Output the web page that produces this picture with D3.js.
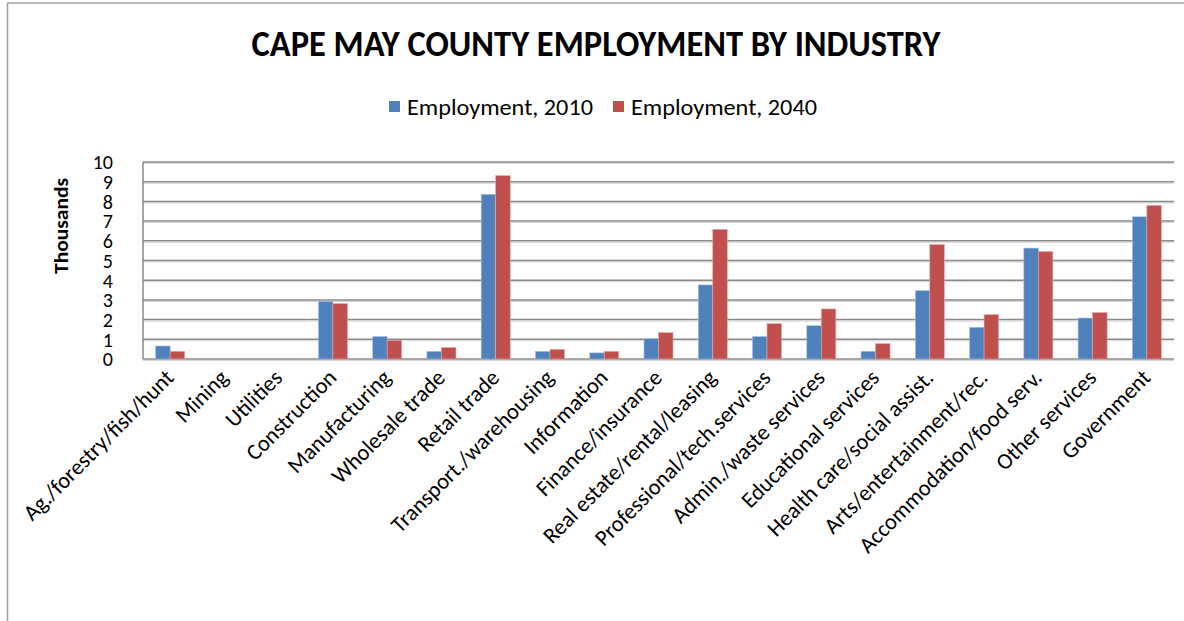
<!DOCTYPE html>
<html>
<head>
<meta charset="utf-8">
<script src="https://cdn.jsdelivr.net/npm/d3@7"></script>
<style>
  html, body { margin: 0; padding: 0; background: #fff; }
  svg { display: block; }
  text { font-family: Calibri, Carlito, Lato, "Open Sans", sans-serif; fill: #000; }
</style>
</head>
<body>
<svg id="chart" width="1184" height="621"></svg>
<script>
// Industry categories (x axis)
const industries = [
  "Ag./forestry/fish/hunt", "Mining", "Utilities", "Construction", "Manufacturing",
  "Wholesale trade", "Retail trade", "Transport./warehousing", "Information",
  "Finance/insurance", "Real estate/rental/leasing", "Professional/tech.services",
  "Admin./waste services", "Educational services", "Health care/social assist.",
  "Arts/entertainment/rec.", "Accommodation/food serv.", "Other services", "Government"
];

// Employment in thousands
const employment2010 = [0.66, 0, 0, 2.92, 1.14, 0.39, 8.36, 0.39, 0.31, 1.03, 3.76, 1.14, 1.69, 0.39, 3.47, 1.61, 5.63, 2.08, 7.22];
const employment2040 = [0.39, 0, 0, 2.81, 0.95, 0.58, 9.31, 0.49, 0.39, 1.34, 6.58, 1.80, 2.54, 0.78, 5.81, 2.25, 5.46, 2.36, 7.80];

const seriesNames = ["Employment, 2010", "Employment, 2040"];
const seriesColors = ["#4f81bd", "#c0504d"];
const yTicks = [0, 1, 2, 3, 4, 5, 6, 7, 8, 9, 10];

const chartTitle = "CAPE MAY COUNTY EMPLOYMENT BY INDUSTRY";
const yAxisTitle = "Thousands";

const rows = industries.map((name, i) => ({ name, values: [employment2010[i], employment2040[i]] }));

const svg = d3.select("#chart");

// outer chart frame (top and left edges)
svg.append("line").attr("x1", 7).attr("x2", 1184).attr("y1", 3).attr("y2", 3)
  .attr("stroke", "#a0a0a0").attr("stroke-width", 1.5);
svg.append("line").attr("x1", 7.5).attr("x2", 7.5).attr("y1", 3).attr("y2", 621)
  .attr("stroke", "#a0a0a0").attr("stroke-width", 1.5);

const plot = { left: 143, right: 1174, top: 162, bottom: 359 };

const x = d3.scaleBand().domain(industries).range([plot.left, plot.right]).paddingInner(0).paddingOuter(0);
const groupFrac = 0.535;
const x1 = d3.scaleBand().domain([0, 1])
  .range([x.bandwidth() * (1 - groupFrac) / 2, x.bandwidth() * (1 + groupFrac) / 2]);
const y = d3.scaleLinear().domain([0, 10]).range([plot.bottom, plot.top]);

// gridlines
const grid = svg.append("g");
grid.selectAll("line.shadow").data(yTicks).join("line")
  .attr("class", "shadow")
  .attr("x1", plot.left).attr("x2", plot.right)
  .attr("y1", d => y(d) + 1.5).attr("y2", d => y(d) + 1.5)
  .attr("stroke", "#d4d4d4").attr("stroke-width", 1);
grid.selectAll("line.major").data(yTicks).join("line")
  .attr("class", "major")
  .attr("x1", plot.left).attr("x2", plot.right)
  .attr("y1", d => y(d)).attr("y2", d => y(d))
  .attr("stroke", "#898989").attr("stroke-width", 1.5);

// y axis line
svg.append("line").attr("x1", plot.left).attr("x2", plot.left)
  .attr("y1", plot.top).attr("y2", plot.bottom)
  .attr("stroke", "#898989").attr("stroke-width", 1.5);

// y axis labels
const yAxis = d3.axisLeft(y).tickValues(yTicks).tickSize(0).tickPadding(0).tickFormat(d3.format("d"));
const yg = svg.append("g").attr("transform", `translate(${plot.left - 30},0)`).call(yAxis);
yg.select(".domain").remove();
yg.selectAll("text").attr("font-size", 20).attr("dy", "0.34em")
  .style("font-family", "Calibri, Carlito, Lato, sans-serif");

// bars
const groups = svg.append("g").selectAll("g").data(rows).join("g")
  .attr("transform", d => `translate(${x(d.name)},0)`);
groups.selectAll("rect").data(d => d.values.map((v, k) => ({ v, k }))).join("rect")
  .attr("x", d => x1(d.k))
  .attr("width", x1.bandwidth())
  .attr("y", d => y(d.v))
  .attr("height", d => y(0) - y(d.v))
  .attr("fill", d => seriesColors[d.k])
  .attr("stroke", d => d.k === 0 ? "#a9c1e0" : "#e0a9a8")
  .attr("stroke-width", 0.6);

// category labels, rotated
svg.append("g").selectAll("text").data(industries).join("text")
  .attr("transform", d => `translate(${x(d) + x.bandwidth() / 2 + 5},${plot.bottom + 20}) rotate(-45)`)
  .attr("text-anchor", "end")
  .attr("font-size", 22.5)
  .text(d => d);

// y axis title
svg.append("text")
  .attr("transform", `translate(68,226) rotate(-90)`)
  .attr("text-anchor", "middle")
  .attr("font-size", 21).attr("font-weight", "bold")
  .attr("textLength", 96).attr("lengthAdjust", "spacingAndGlyphs")
  .text(yAxisTitle);

// chart title
svg.append("text")
  .attr("x", 596).attr("y", 56)
  .attr("text-anchor", "middle")
  .attr("font-size", 36).attr("font-weight", "bold")
  .attr("textLength", 689).attr("lengthAdjust", "spacingAndGlyphs")
  .text(chartTitle);

// legend
const legendItems = [
  { name: seriesNames[0], color: seriesColors[0], sx: 389, tx: 407, w: 186 },
  { name: seriesNames[1], color: seriesColors[1], sx: 613, tx: 631, w: 186 }
];
const lg = svg.append("g");
lg.selectAll("rect").data(legendItems).join("rect")
  .attr("x", d => d.sx).attr("y", 101).attr("width", 11).attr("height", 11)
  .attr("fill", d => d.color);
lg.selectAll("text").data(legendItems).join("text")
  .attr("x", d => d.tx).attr("y", 115)
  .attr("font-size", 22)
  .attr("textLength", d => d.w).attr("lengthAdjust", "spacingAndGlyphs")
  .text(d => d.name);
</script>
</body>
</html>
